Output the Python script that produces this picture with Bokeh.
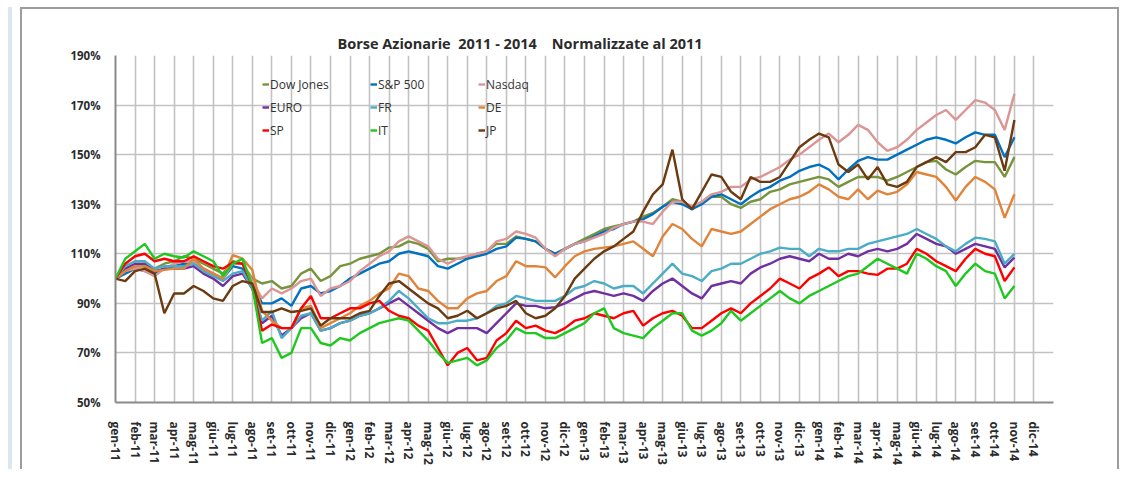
from bokeh.plotting import figure
from bokeh.models import FixedTicker, Legend, LegendItem, Range1d
from bokeh.embed import file_html
from bokeh.resources import INLINE

# ---------------- data (values in % of Jan 2011, sampled every half month) ----------------
month_names = ["gen", "feb", "mar", "apr", "mag", "giu", "lug", "ago", "set", "ott", "nov", "dic"]
years = ["11", "12", "13", "14"]
month_labels = [f"{m}-{y}" for y in years for m in month_names]
y_ticks = [50, 70, 90, 110, 130, 150, 170, 190]

# time axis in months since gen-11 (half-month steps)
t = [i / 2 for i in range(93)]

dow_jones = [100, 103, 105, 105, 104, 106, 107, 109, 108, 106, 104, 102,
             107, 106, 100, 98, 99, 96, 97, 102, 104, 99, 101, 105,
             106, 108, 109, 110, 112.5, 113, 115, 114, 112, 107, 108, 108,
             108.5, 110, 111, 114, 114, 117, 116, 115, 112, 110, 112, 114,
             116, 118, 120, 121, 122, 123, 125, 126.5, 129, 132, 131, 128,
             131, 133, 133, 130, 128.5, 131, 132, 135, 136, 138, 139, 140,
             141, 140, 137, 139, 141, 141, 141, 139.5, 141, 143, 145, 147,
             147.5, 144, 142, 145, 147.5, 147, 147, 141, 149]
sp500 = [100, 102, 104, 103, 102, 104, 105, 106, 106, 104, 102, 100,
         105, 104, 98, 90, 90, 92, 89, 96, 97, 94, 95, 97,
         100, 102, 104, 106, 107, 110, 111, 110, 109, 105, 104, 106,
         108, 109, 110, 112, 113, 116.5, 116, 115, 112, 110, 112, 114,
         115, 117, 119, 120, 122, 123, 124, 126, 129, 131, 130, 128,
         130, 133, 134, 132, 130, 133, 135.5, 137, 139.5, 141, 143.5, 145,
         146, 144, 140, 144, 147.5, 149, 148, 148, 150, 152, 154, 156,
         157, 156, 154.5, 157, 159, 158, 158, 149, 157]
nasdaq = [100, 103, 104, 103, 101, 104, 106, 107, 107, 104, 102, 100,
          106, 106, 99, 92, 96, 94, 96, 99, 100, 93, 96, 97,
          99, 103, 106, 109, 111, 115, 117, 115, 113, 108, 106, 108,
          109, 110, 111, 115, 116, 119, 118, 116.5, 112, 109, 112, 114,
          115, 116.5, 118, 120.5, 122, 123, 123, 122, 127, 131, 131, 129,
          131, 134, 135, 137, 137, 140, 141, 143, 145, 148, 150, 153,
          156, 158.5, 155, 158, 162, 160, 155, 151.5, 153, 156, 160, 163,
          166, 168, 164, 168, 172, 171, 168, 160, 174.5]
euro = [100, 104, 106, 106, 103, 104, 104, 104, 105, 102, 100, 97,
        101, 102, 96, 82, 85, 77, 80, 84, 86, 79, 80, 82,
        83, 85, 86, 88, 90, 92, 89, 86, 83, 80, 78, 80,
        80, 80, 78, 82, 86, 90, 89, 89, 88, 88.5, 90, 92,
        94, 95, 94, 93, 94, 93, 91, 95, 98, 100, 97, 94,
        92, 97, 98, 99, 98, 102, 104.5, 106, 108, 109, 108, 107,
        110, 108, 108, 110, 109, 111, 112, 111, 112, 114, 118, 116,
        114, 113, 110, 112, 114, 113, 112, 104.5, 108.5]
fr = [100, 105, 107, 107, 104, 105, 105, 105, 106, 103, 101, 99,
      102, 103, 96, 83, 87, 76, 80, 85, 86, 79, 80, 82,
      83, 85, 86, 88, 91, 95, 92, 88, 84, 82, 82, 83,
      83, 84, 86, 89, 90, 93, 92, 91, 91, 91, 93, 96,
      97, 99, 98, 96, 97, 97, 94, 98, 102, 106, 102, 101,
      99, 103, 104, 106, 106, 108, 110, 111, 112.5, 112, 112, 109,
      112, 111, 111, 112, 112, 114, 115, 116, 117, 118, 120, 118,
      116, 113, 111, 114, 116.5, 116, 115, 106, 110]
de = [100, 103, 105, 105, 103, 103.5, 104, 104, 108, 104, 102, 100,
      109.5, 108, 103.5, 87, 83, 80, 80, 88, 89, 80, 82, 84,
      86, 89, 91, 94, 96, 102, 101, 96, 95, 91, 88, 88,
      92, 94, 95, 99, 101, 107, 105, 105, 104.5, 100.5, 105, 109,
      111, 112, 112.5, 113, 114, 115, 112, 109, 117, 122, 120, 116,
      113, 120, 119, 118, 119, 122, 125, 128, 130, 132, 133, 135,
      138, 136, 133, 132, 136, 132, 135.5, 134, 135, 138, 143, 142,
      141, 137, 131.5, 137, 141, 139, 136, 124.5, 134]
sp = [100, 106, 109, 110, 107, 108, 107, 107, 109, 107, 105, 104,
      106.5, 106, 97, 79, 81.5, 80, 80, 88, 93, 84, 84, 86,
      88, 88, 90, 91, 87, 85, 84, 81, 79, 72, 65, 70,
      72, 67, 68, 75, 78, 83, 80, 81, 79, 78, 80, 83,
      84, 86, 85, 84, 86, 87, 81, 84, 86, 87, 85, 80,
      80, 83, 86, 88, 86, 90, 93, 96, 100, 98, 96, 100,
      102, 104.5, 101, 103, 103, 102, 101.5, 104, 104, 106, 112, 110,
      107, 105, 103, 108, 112, 110, 109, 99, 104.5]
it = [100, 108, 111, 114, 108, 110, 109, 108.5, 111, 109, 107, 101,
      106, 108, 97, 74, 76, 68, 70, 80, 80, 74, 73, 76,
      75, 78, 80, 82, 83, 84, 83, 79, 75, 70, 66, 67,
      68, 65, 67, 72, 75, 80, 78, 78, 76, 76, 78, 80,
      82, 86, 88, 80, 78, 77, 76, 80, 83, 86, 86, 79,
      77, 79, 82, 87, 83, 86, 89, 92, 95, 92, 90, 93,
      95, 97, 99, 101, 102, 105, 108, 106, 104, 102, 110, 108,
      105, 103, 97, 102, 106, 103, 102, 92, 97]
jp = [100, 99, 103, 104, 102, 86, 94, 94, 97, 95, 92, 91,
      97, 99, 98, 86.5, 86.5, 88, 86.5, 87, 88, 81, 84, 84,
      84, 86, 87, 93, 98, 99, 96, 93, 90, 88, 84, 85,
      87, 84, 86, 88, 89, 91, 86, 84, 85, 88, 93, 100,
      104, 108, 111, 113, 116, 119, 127, 134, 138, 152, 132, 128,
      135, 142, 141, 135, 132, 141, 139, 139, 141, 147, 153, 156,
      158.5, 157, 146, 143, 146, 140, 145, 138, 137, 139, 145, 147,
      149, 147, 151, 151, 153, 158, 157, 143.5, 164]

series_names = ["Dow Jones", "S&P 500", "Nasdaq", "EURO", "FR", "DE", "SP", "IT", "JP"]
series_values = [dow_jones, sp500, nasdaq, euro, fr, de, sp, it, jp]
series_colors = ["#77933C", "#0070C0", "#D99694", "#7030A0", "#4BACC6",
                 "#E0843A", "#FF0000", "#1FC81F", "#6B3A0F"]

FONT = "Open Sans"
TEXT = "#2b2b2b"

p = figure(width=1099, height=462, output_backend="svg", toolbar_location=None,
           x_range=Range1d(0, 48), y_range=Range1d(50, 190),
           min_border_left=93, min_border_right=68, min_border_top=46, min_border_bottom=69)
p.outline_line_color = None
p.background_fill_color = "white"
p.border_fill_color = "white"
# outer chart box (grey frame) and pale page strip on the left
p.styles = {
    "margin-left": "20px",
    "margin-top": "7px",
    "border-left": "2px solid #9c9c9c",
    "border-top": "2px solid #9c9c9c",
    "border-right": "2px solid #9c9c9c",
    "box-shadow": "-8px 0 0 0 #ffffff, -12px 0 0 0 #dde7f3",
}

# title
p.title.text = "Borse Azionarie\u00a0\u00a02011 - 2014\u00a0\u00a0\u00a0\u00a0Normalizzate al 2011"
p.title.text_font = FONT
p.title.text_font_size = "14.5px"
p.title.text_font_style = "bold"
p.title.text_color = TEXT
p.title.align = "left"
p.title.offset = 222
p.title.standoff = 6

# lines
renderers = []
for name, vals, col in zip(series_names, series_values, series_colors):
    r = p.line(t, vals, line_color=col, line_width=2.4)
    renderers.append(r)

# axes
p.xaxis.ticker = FixedTicker(ticks=list(range(len(month_labels))))
p.xaxis.major_label_overrides = {i: lab for i, lab in enumerate(month_labels)}
p.xaxis.major_label_orientation = "vertical"
p.xaxis.major_label_standoff = 13
p.yaxis.ticker = FixedTicker(ticks=y_ticks)
p.yaxis.major_label_overrides = {v: f"{v}%" for v in y_ticks}
p.yaxis.major_label_standoff = 9
for ax in (p.xaxis[0], p.yaxis[0]):
    ax.axis_line_color = "#8a8a8a"
    ax.axis_line_width = 2
    ax.major_tick_line_color = None
    ax.minor_tick_line_color = None
    ax.major_label_text_font = FONT
    ax.major_label_text_font_style = "bold"
    ax.major_label_text_color = TEXT
p.xaxis.major_label_text_font_size = "12px"
p.yaxis.major_label_text_font_size = "11.5px"

p.xgrid.ticker = FixedTicker(ticks=list(range(len(month_labels))))
p.ygrid.ticker = FixedTicker(ticks=y_ticks)
for g in (p.xgrid[0], p.ygrid[0]):
    g.grid_line_color = "#c2c2c2"
    g.grid_line_width = 1.6

# legend (3 x 3, row-major)
legend = Legend(items=[LegendItem(label=n, renderers=[r]) for n, r in zip(series_names, renderers)],
                location=(147, 262), orientation="horizontal", ncols=3,
                glyph_width=7, glyph_height=20, label_standoff=1, label_width=97, label_height=20,
                spacing=3, padding=0, margin=0,
                background_fill_alpha=0, border_line_color=None,
                label_text_font=FONT, label_text_font_size="12px", label_text_color="#333333")
p.add_layout(legend)

open("out.html", "w").write(file_html(p, INLINE))
